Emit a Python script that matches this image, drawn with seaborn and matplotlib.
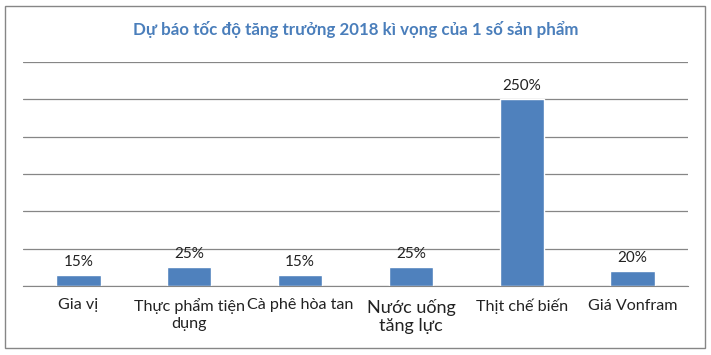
import matplotlib.pyplot as plt
import seaborn as sns
import pandas as pd
from matplotlib.patches import Rectangle

# Dữ liệu
categories = ['Gia vị', 'Thực phẩm tiện\ndụng', 'Cà phê hòa tan', 'Nước uống\ntăng lực', 'Thịt chế biến', 'Giá Vonfram']
growth = [15, 25, 15, 25, 250, 20]
value_labels = ['15%', '25%', '15%', '25%', '250%', '20%']
grid_ticks = [0, 50, 100, 150, 200, 250, 300]

df = pd.DataFrame({'cat': categories, 'growth': growth})

sns.set_style('white')
plt.rcParams['font.family'] = ['Lato', 'DejaVu Sans']

fig = plt.figure(figsize=(7.11, 3.55), dpi=100)
ax = fig.add_axes([23 / 711, 1 - 286 / 355, 665 / 711, 224 / 355])

sns.barplot(data=df, x='cat', y='growth', color='#4F81BD', width=0.4, saturation=1, ax=ax)

for i, (v, lab) in enumerate(zip(growth, value_labels)):
    ax.text(i, v + 8, lab, ha='center', va='bottom', fontsize=11, color='#222222')

ax.set_ylim(0, 300)
ax.set_yticks(grid_ticks)
ax.set_yticklabels([])
ax.tick_params(axis='y', length=0)
ax.tick_params(axis='x', length=0, labelsize=11.6, pad=9, labelcolor='#222222')
# nhãn "Nước uống tăng lực" hơi to hơn trong ảnh gốc
ax.get_xticklabels()[3].set_fontsize(13)
ax.grid(axis='y', color='#868686', linewidth=0.9)
ax.set_axisbelow(True)
for s in ['left', 'right', 'top']:
    ax.spines[s].set_visible(False)
ax.spines['bottom'].set_color('#868686')
ax.set_xlabel('')
ax.set_ylabel('')

fig.text(0.5, 1 - 30 / 355, 'Dự báo tốc độ tăng trưởng 2018 kì vọng của 1 số sản phẩm',
         ha='center', va='center', fontsize=12.2, fontweight='bold', color='#4A7EBB')

# Viền ngoài của biểu đồ
fig.patches.append(Rectangle((5 / 711, 1 - 348 / 355), 700 / 711, 342 / 355,
                             transform=fig.transFigure, fill=False, edgecolor='#868686', linewidth=1))

fig.savefig('out.png', dpi=100)
